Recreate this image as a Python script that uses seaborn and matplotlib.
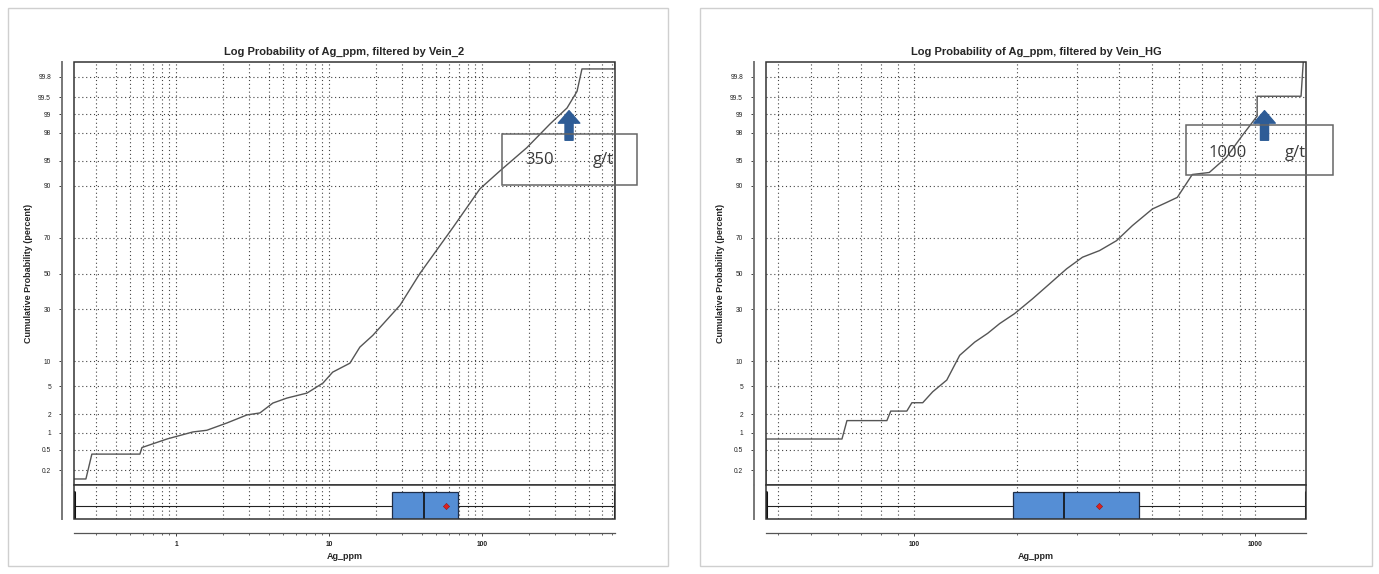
from statistics import NormalDist

import seaborn as sns
import matplotlib.pyplot as plt
from matplotlib.patches import Rectangle
from matplotlib.ticker import FuncFormatter, LogLocator, NullFormatter

# values
vein2_ag = [0.214, 0.256, 0.28, 0.577, 0.595, 0.867, 1.28, 1.58, 2.14, 2.89,
            3.51, 4.27, 5.28, 7.13, 9.07, 10.5, 13.6, 15.8, 19.2, 28.9,
            39.0, 52.7, 64.1, 96.3, 130, 195, 276, 357, 415, 447, 735, 735]
vein2_pct = [0.134, 0.134, 0.416, 0.416, 0.55, 0.78, 1.03, 1.1, 1.45, 1.94,
             2.08, 2.92, 3.44, 4.03, 5.47, 7.48, 9.5, 14.1, 18.3, 32.1,
             50, 65.8, 74.9, 89.2, 93.3, 96.7, 98.55, 99.22, 99.61, 99.86, 99.86, 99.99]

veinhg_ag = [36.9, 36.9, 61.6, 63.7, 83.4, 85.6, 95.4, 98.7, 106.2, 113.6,
             124.9, 136.3, 150.8, 164.6, 178.4, 197.4, 222.8, 249.9, 280.2, 312.0,
             349.9, 392.3, 436.9, 499.8, 549.3, 591.5, 654.4, 733.8, 822.9, 916.2,
             1013.5, 1013.5, 1362.8, 1409]
veinhg_pct = [0.05, 0.78, 0.78, 1.58, 1.58, 2.22, 2.22, 2.95, 2.95, 4.2,
              5.97, 11.6, 15.8, 19.1, 23.2, 27.9, 35.6, 44.0, 52.7, 59.4,
              63.1, 68.4, 75.8, 82.7, 85.0, 86.7, 92.6, 93.0, 95.5, 97.8,
              98.93, 99.52, 99.52, 99.99]

# box plot summaries (min, q1, median, q3, max, mean)
vein2_box = [0.214, 25.5, 41.8, 69.7, 735, 57.8]
veinhg_box = [36.9, 195, 276, 458, 1409, 348]

prob_ticks = [0.2, 0.5, 1, 2, 5, 10, 30, 50, 70, 90, 95, 98, 99, 99.5, 99.8]
prob_labels = ['0.2', '0.5', '1', '2', '5', '10', '30', '50', '70', '90',
               '95', '98', '99', '99.5', '99.8']

titles = ['Log Probability of Ag_ppm, filtered by Vein_2',
          'Log Probability of Ag_ppm, filtered by Vein_HG']
cutoffs = ['350', '1000']
arrow_x = [368, 1065]

sns.set_theme(style='white')
plt.rcParams['font.family'] = ['Liberation Sans', 'DejaVu Sans']

W, H = 1379, 574
fig = plt.figure(figsize=(W / 100, H / 100), dpi=100)


def rect(x0, y0, x1, y1):
    return [x0 / W, 1 - y1 / H, (x1 - x0) / W, (y1 - y0) / H]


nd = NormalDist()


def probit(p):
    return [nd.inv_cdf(v / 100) for v in p]


grid_kw = dict(color='#444444', linestyle=(0, (1, 2.5)), linewidth=0.8)
blue_box = '#558ED5'

panels = [
    dict(x0=74, x1=615, ag=vein2_ag, pct=vein2_pct, box=vein2_box,
         frame=(8, 8, 668, 566), note=(502, 134, 637, 185), n1=540, n2=603, ny=160),
    dict(x0=766, x1=1306, ag=veinhg_ag, pct=veinhg_pct, box=veinhg_box,
         frame=(700, 8, 1372, 566), note=(1186, 125, 1333, 175), n1=1228, n2=1295, ny=153),
]

for i, p in enumerate(panels):
    # panel border of the screenshot
    fx0, fy0, fx1, fy1 = p['frame']
    fig.add_artist(Rectangle((fx0 / W, 1 - fy1 / H), (fx1 - fx0) / W, (fy1 - fy0) / H,
                             transform=fig.transFigure, fill=False,
                             edgecolor='#cfcfcf', linewidth=1))

    ax = fig.add_axes(rect(p['x0'], 62, p['x1'], 485))
    bx = fig.add_axes(rect(p['x0'], 485, p['x1'], 519), sharex=ax)

    ax.set_xscale('log')
    sns.lineplot(x=p['ag'], y=probit(p['pct']), sort=False, estimator=None,
                 color='#555555', linewidth=1.0, ax=ax)
    ax.set_xlim(p['ag'][0], p['ag'][-1])
    ax.set_ylim(nd.inv_cdf(0.001), nd.inv_cdf(0.999))
    ax.set_yticks(probit(prob_ticks))
    ax.set_yticklabels(prob_labels)
    for lab in ax.get_yticklabels():
        lab.set_fontweight('bold')
    ax.tick_params(axis='y', left=True, length=2.5, width=0.6, pad=5,
                   labelsize=4.8, colors='#222222')
    ax.tick_params(axis='x', which='both', bottom=False, labelbottom=False)
    ax.xaxis.set_minor_locator(LogLocator(base=10, subs=range(2, 10)))
    ax.grid(which='major', axis='both', **grid_kw)
    ax.grid(which='minor', axis='x', **grid_kw)
    for s in ['top', 'right', 'bottom']:
        ax.spines[s].set_visible(False)
    ax.spines['left'].set_position(('outward', 9))
    ax.spines['left'].set_color('#777777')
    ax.spines['left'].set_linewidth(1.4)
    ax.add_patch(Rectangle((0, 0), 1, 1, transform=ax.transAxes, fill=False,
                           edgecolor='#333333', linewidth=1.1, clip_on=False, zorder=5))
    ax.set_title(titles[i], fontsize=8, fontweight='bold', pad=5)
    ax.set_ylabel('Cumulative Probability (percent)', fontsize=6.5,
                  fontweight='bold', labelpad=4)

    # cut-off arrow
    ax.annotate('', xy=(arrow_x[i], 0.885), xytext=(arrow_x[i], 0.815),
                xycoords=('data', 'axes fraction'), textcoords=('data', 'axes fraction'),
                arrowprops=dict(arrowstyle='simple,head_length=0.9,head_width=1.55,tail_width=0.58',
                                color='#2E5C96', shrinkA=0, shrinkB=0, mutation_scale=10))

    # box plot strip
    mn, q1, med, q3, mx, mean = p['box']
    bx.bxp([dict(whislo=mn, q1=q1, med=med, q3=q3, whishi=mx, mean=mean, fliers=[])],
           positions=[0], widths=1.0, orientation='horizontal', showmeans=True,
           patch_artist=True, manage_ticks=False,
           boxprops=dict(facecolor=blue_box, edgecolor='#1E2E4A', linewidth=0.9),
           medianprops=dict(color='#111111', linewidth=1.2),
           whiskerprops=dict(color='#222222', linewidth=0.8),
           capprops=dict(color='#111111', linewidth=2.2), capwidths=1.0,
           meanprops=dict(marker='D', markersize=3.2, markerfacecolor='#E02020',
                          markeredgecolor='#8A1A1A', markeredgewidth=0.4))
    bx.set_ylim(-0.5, 0.76)
    bx.set_yticks([])
    bx.grid(which='both', axis='x', **grid_kw)
    bx.grid(False, axis='y')
    for s in ['top', 'right']:
        bx.spines[s].set_visible(False)
    bx.spines['left'].set_position(('outward', 9))
    bx.spines['left'].set_color('#777777')
    bx.spines['left'].set_linewidth(1.4)
    bx.spines['bottom'].set_position(('outward', 10))
    bx.spines['bottom'].set_color('#555555')
    bx.spines['bottom'].set_linewidth(0.9)
    bx.add_patch(Rectangle((0, 0), 1, 1, transform=bx.transAxes, fill=False,
                           edgecolor='#333333', linewidth=1.1, clip_on=False, zorder=5))
    bx.xaxis.set_major_formatter(FuncFormatter(lambda v, _: f'{v:g}'))
    bx.xaxis.set_minor_formatter(NullFormatter())
    bx.tick_params(axis='x', which='major', bottom=True, length=2.5, width=0.6,
                   pad=3, labelsize=4.8, colors='#222222')
    bx.tick_params(axis='x', which='minor', bottom=True, length=1.5, width=0.5)
    for lab in bx.get_xticklabels():
        lab.set_fontweight('bold')
    bx.set_xlabel('Ag_ppm', fontsize=6.5, fontweight='bold', labelpad=3)

    # pasted cut-off note
    nx0, ny0, nx1, ny1 = p['note']
    fig.add_artist(Rectangle((nx0 / W, 1 - ny1 / H), (nx1 - nx0) / W, (ny1 - ny0) / H,
                             transform=fig.transFigure, fill=False,
                             edgecolor='#666666', linewidth=1.1))
    fig.text(p['n1'] / W, 1 - p['ny'] / H, cutoffs[i], fontsize=12, color='#3a3a3a',
             ha='center', va='center', family=['Open Sans', 'DejaVu Sans'])
    fig.text(p['n2'] / W, 1 - p['ny'] / H, 'g/t', fontsize=12, color='#3a3a3a',
             ha='center', va='center', family=['Open Sans', 'DejaVu Sans'])

fig.savefig('out.png', dpi=100)
plt.close(fig)
